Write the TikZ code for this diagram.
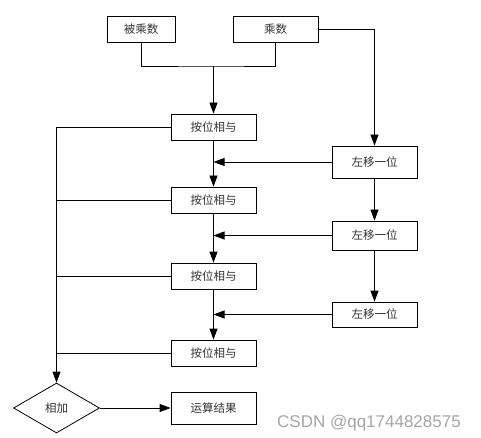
\documentclass[tikz,border=0pt]{standalone}
\usepackage{fontspec}
\newfontfamily\cjk{Noto Sans CJK SC}
\newfontfamily\wmfont{Liberation Sans}
\usetikzlibrary{arrows.meta,positioning,shapes.geometric}

\begin{document}
\begin{tikzpicture}[x=1pt,y=-1pt,line width=0.8pt,
  box/.style={draw,minimum width=85pt,minimum height=26pt,inner sep=0pt,
    text=black!80,font=\cjk\fontsize{11.5}{13}\selectfont},
  arr/.style={-{Triangle[length=11pt,width=8pt]}}]
  \useasboundingbox (0,0) rectangle (481,438);
  \node[box,minimum width=68pt] (MC) at (141,29) {被乘数};
  \node[box] (MR) at (275.5,29) {乘数};
  \node[box] (A1) at (213.5,127) {按位相与};
  \node[box] (A2) at (213.5,200) {按位相与};
  \node[box] (A3) at (213.5,276) {按位相与};
  \node[box] (A4) at (213.5,353) {按位相与};
  \node[box,minimum height=32pt] (S1) at (374.5,162) {左移一位};
  \node[box,minimum height=29pt] (S2) at (374.5,235.5) {左移一位};
  \node[box,minimum height=25pt] (S3) at (374.5,314.5) {左移一位};
  \node[box,diamond,aspect=1.7,minimum width=86pt,minimum height=50pt] (ADD) at (56.5,408) {相加};
  \node[box,minimum height=32pt] (RES) at (213.5,408) {运算结果};
  \node[anchor=base,text=black!35,font=\wmfont\fontsize{17}{20}\selectfont] (WM) at (369,427) {CSDN @qq1744828575};
  \coordinate (J) at (213.5,66);

  \draw (MC.south) |- (J) -| (MR.south);
  \draw[arr] (J) -- (A1.north);
  \draw[arr] (MR.east) -| (S1.north);
  \draw[arr] (A1) -- (A2);
  \draw[arr] (A2) -- (A3);
  \draw[arr] (A3) -- (A4);
  \draw[arr] (S1) -- (S2);
  \draw[arr] (S2) -- (S3);
  \draw[arr] (S1.west) -- (S1.west -| A1.south);
  \draw[arr] (S2.west) -- (S2.west -| A2.south);
  \draw[arr] (S3.west) -- (S3.west -| A3.south);
  \draw[arr] (A1.west) -| (ADD.north);
  \draw (A2.west) -- (A2.west -| ADD.north);
  \draw (A3.west) -- (A3.west -| ADD.north);
  \draw (A4.west) -- (A4.west -| ADD.north);
  \draw[arr] (ADD) -- (RES);
\end{tikzpicture}
\end{document}
